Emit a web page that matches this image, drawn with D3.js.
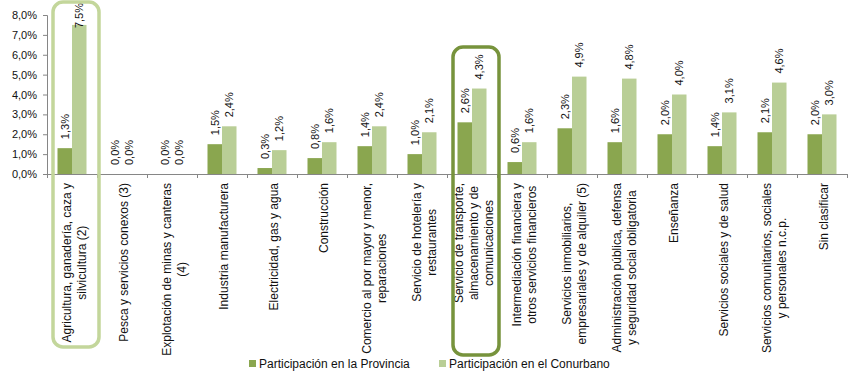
<!DOCTYPE html>
<html>
<head>
<meta charset="utf-8">
<script src="https://cdn.jsdelivr.net/npm/d3@7"></script>
<style>
  body { margin: 0; background: #fff; }
  text { font-family: "Liberation Sans", Arial, sans-serif; fill: #111; }
</style>
</head>
<body>
<div class="chart"></div>
<script>
// Chart data
const categories = [
    "Agricultura, ganadería, caza y\nsilvicultura (2)",
    "Pesca y servicios conexos (3)",
    "Explotación de minas y canteras\n(4)",
    "Industria manufacturera",
    "Electricidad, gas y agua",
    "Construcción",
    "Comercio al por mayor y menor,\nreparaciones",
    "Servicio de hotelería y\nrestaurantes",
    "Servicio de transporte,\nalmacenamiento y de\ncomunicaciones",
    "Intermediación financiera y\notros servicios financieros",
    "Servicios inmobiliarios,\nempresariales y de alquiler (5)",
    "Administración pública, defensa\ny seguridad social obligatoria",
    "Enseñanza",
    "Servicios sociales y de salud",
    "Servicios comunitarios, sociales\ny personales n.c.p.",
    "Sin clasificar"
];
const provincia = [1.3, 0.0, 0.0, 1.5, 0.3, 0.8, 1.4, 1.0, 2.6, 0.6, 2.3, 1.6, 2.0, 1.4, 2.1, 2.0];
const conurbano = [7.5, 0.0, 0.0, 2.4, 1.2, 1.6, 2.4, 2.1, 4.3, 1.6, 4.9, 4.8, 4.0, 3.1, 4.6, 3.0];
const seriesNames = ["Participación en la Provincia", "Participación en el Conurbano"];
const yTicks = [0, 1, 2, 3, 4, 5, 6, 7, 8];
const highlighted = [0, 8];

function sectorChart(config) {
    const { width, height, container } = config;
    const margin = { top: 15, right: 15, bottom: 202, left: 47 };
    const colors = ["#8AA64F", "#B9CE96"];
    const boxColors = ["#C3D69B", "#77933C"];

    const svg = d3.select(container).append("svg")
        .attr("width", width)
        .attr("height", height);

    const innerW = width - margin.left - margin.right;
    const innerH = height - margin.top - margin.bottom;

    const g = svg.append("g")
        .attr("transform", `translate(${margin.left},${margin.top})`);

    const fmt = v => d3.format(".1f")(v).replace(".", ",") + "%";

    const xScale = d3.scaleBand()
        .domain(d3.range(categories.length))
        .range([0, innerW]);

    const xSub = d3.scaleBand()
        .domain([0, 1])
        .range([10.5, xScale.bandwidth() - 10.5]);

    const yScale = d3.scaleLinear()
        .domain([0, 8])
        .range([innerH, 0]);

    // Bars
    const series = [provincia, conurbano];
    series.forEach((vals, s) => {
        g.selectAll(".bar-" + s)
            .data(vals)
            .enter()
            .append("rect")
            .attr("class", "bar-" + s)
            .attr("x", (d, i) => xScale(i) + xSub(s))
            .attr("y", d => yScale(d))
            .attr("width", xSub.bandwidth())
            .attr("height", d => innerH - yScale(d))
            .style("fill", colors[s]);

        // Data labels, rotated
        g.selectAll(".lbl-" + s)
            .data(vals)
            .enter()
            .append("text")
            .attr("class", "lbl-" + s)
            .style("font-size", "11px")
            .attr("dominant-baseline", "central")
            .text(d => fmt(d))
            .each(function (d, i) {
                const len = this.getComputedTextLength();
                const cx = xScale(i) + xSub(s) + xSub.bandwidth() / 2;
                // keep label inside the chart area
                const y = Math.max(yScale(d) - 9, len + 3 - margin.top);
                d3.select(this).attr("transform", `translate(${cx},${y}) rotate(-90)`);
            });
    });

    // Y axis
    const yAxis = d3.axisLeft(yScale)
        .tickValues(yTicks)
        .tickSize(4)
        .tickPadding(6)
        .tickFormat(d => fmt(d));

    const yG = g.append("g").attr("class", "y-axis").call(yAxis);
    yG.selectAll("text").style("font-size", "11px");

    // X axis with ticks at category boundaries
    const xG = g.append("g").attr("transform", `translate(0,${innerH})`);
    xG.append("line")
        .attr("x1", 0).attr("x2", innerW)
        .attr("y1", 0).attr("y2", 0);
    xG.selectAll(".xtick")
        .data(d3.range(categories.length + 1))
        .enter()
        .append("line")
        .attr("x1", i => i * xScale.step())
        .attr("x2", i => i * xScale.step())
        .attr("y1", 0).attr("y2", 4);
    g.selectAll(".y-axis path, .y-axis line").style("stroke", "#868686");
    xG.selectAll("line").style("stroke", "#868686").style("shape-rendering", "crispEdges");

    // Category labels, rotated, lines centered on each other
    categories.forEach((c, i) => {
        const lines = c.split("\n");
        const cx = xScale(i) + xScale.bandwidth() / 2 + 2;
        const grp = g.append("g");
        const texts = lines.map((ln, k) => grp.append("text")
            .style("font-size", "12px")
            .attr("text-anchor", "middle")
            .attr("dominant-baseline", "central")
            .text(ln));
        const maxLen = d3.max(texts, t => t.node().getComputedTextLength());
        texts.forEach((t, k) => {
            const x = cx + (k - (lines.length - 1) / 2) * 15;
            const y = innerH + 9 + maxLen / 2;
            t.attr("transform", `translate(${x},${y}) rotate(-90)`);
        });
    });

    // Highlight boxes
    highlighted.forEach((ci, k) => {
        const top = k === 0 ? 2 : 47;
        const bottom = k === 0 ? 347 : 355;
        svg.append("rect")
            .attr("x", margin.left + xScale(ci) + 6)
            .attr("y", top)
            .attr("width", xScale.bandwidth() - 4)
            .attr("height", bottom - top)
            .attr("rx", 10)
            .style("fill", "none")
            .style("stroke", boxColors[k])
            .style("stroke-width", 3.5);
    });

    // Legend
    const legend = svg.append("g");
    const legendX = [249, 439];
    seriesNames.forEach((name, s) => {
        legend.append("rect")
            .attr("x", legendX[s]).attr("y", 360)
            .attr("width", 7).attr("height", 7)
            .style("fill", colors[s]);
        legend.append("text")
            .attr("x", legendX[s] + 10).attr("y", 367.5)
            .style("font-size", "12px")
            .text(name);
    });
}

sectorChart({ width: 862, height: 376, container: ".chart" });
</script>
</body>
</html>
